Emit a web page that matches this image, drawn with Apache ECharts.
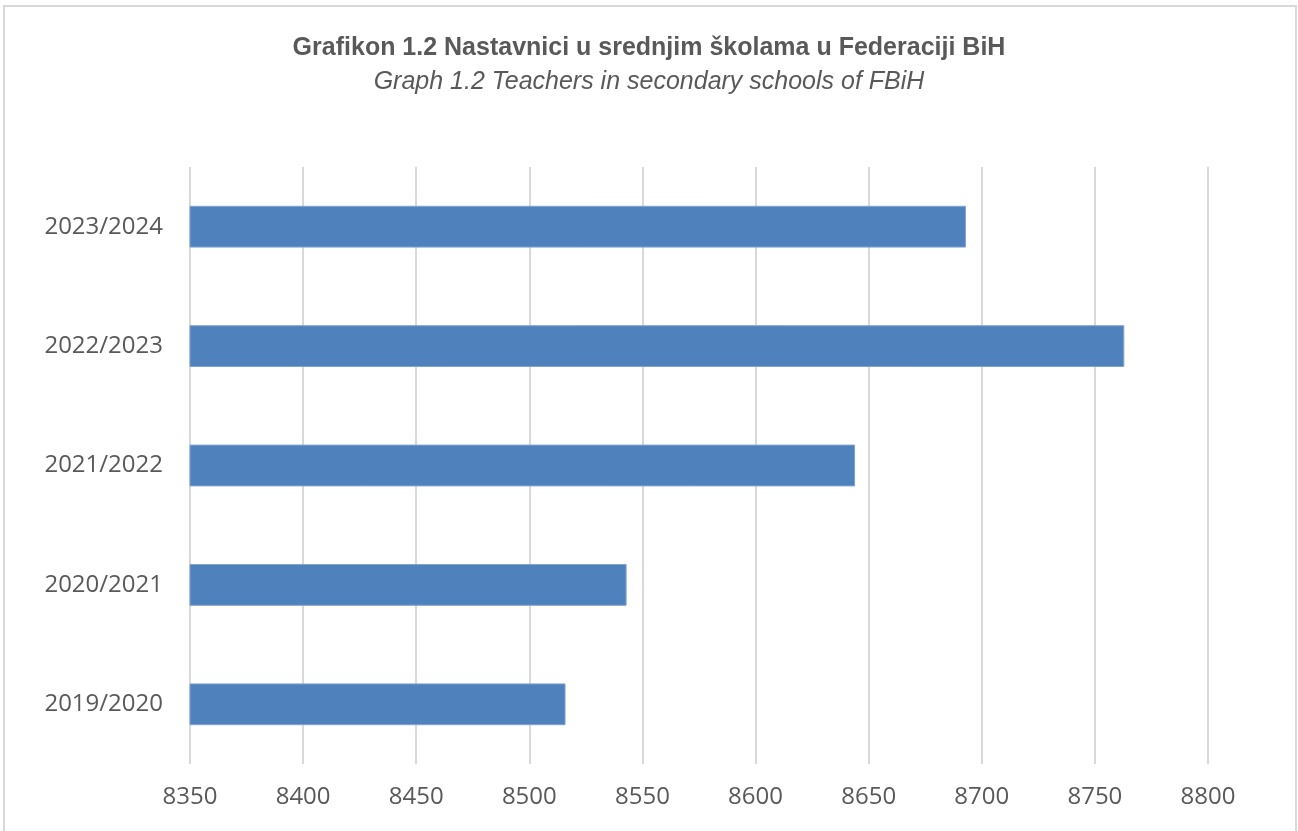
<!DOCTYPE html>
<html>
<head>
<meta charset="utf-8">
<script src="https://cdn.jsdelivr.net/npm/echarts@6/dist/echarts.min.js"></script>
<style>
  html, body { margin: 0; padding: 0; background: #fff; }
  #chart { width: 1298px; height: 831px; }
</style>
</head>
<body>
<div id="chart"></div>
<script>
var years = ['2019/2020', '2020/2021', '2021/2022', '2022/2023', '2023/2024']
var teachers = [8516, 8543, 8644, 8763, 8693]
var axisMin = 8350
var axisMax = 8800
var axisStep = 50

var myChart = echarts.init(document.getElementById('chart'))
var option = {
  backgroundColor: '#fff',
  animation: false,
  title: {
    text: 'Grafikon 1.2 Nastavnici u srednjim školama u Federaciji BiH',
    subtext: 'Graph 1.2 Teachers in secondary schools of FBiH',
    left: 'center',
    top: 31,
    itemGap: 9,
    textStyle: {
      fontFamily: 'Liberation Sans',
      fontWeight: 'bold',
      fontSize: 25,
      color: '#595959'
    },
    subtextStyle: {
      fontFamily: 'Liberation Sans',
      fontStyle: 'italic',
      fontSize: 25,
      color: '#595959'
    }
  },
  graphic: [{
    type: 'rect',
    shape: { x: 4, y: 6, width: 1292, height: 840 },
    style: { fill: 'none', stroke: '#d9d9d9', lineWidth: 2 },
    silent: true
  }],
  grid: {
    left: 190,
    right: 90,
    top: 167,
    bottom: 67,
    containLabel: false
  },
  xAxis: {
    type: 'value',
    min: axisMin,
    max: axisMax,
    interval: axisStep,
    axisLine: { show: false },
    axisTick: { show: false },
    axisLabel: {
      margin: 21,
      fontFamily: 'Open Sans',
      fontSize: 24,
      color: '#595959',
      formatter: function (v) { return String(v) }
    },
    splitLine: { lineStyle: { color: '#d9d9d9', width: 2 } }
  },
  yAxis: {
    type: 'category',
    data: years,
    axisLine: { show: false },
    axisTick: { show: false },
    axisLabel: {
      margin: 27,
      fontFamily: 'Open Sans',
      fontSize: 24,
      color: '#595959'
    }
  },
  series: [{
    type: 'bar',
    data: teachers,
    barWidth: '35%',
    itemStyle: {
      color: '#4f81bd',
      borderColor: '#7fa3d3',
      borderWidth: 1
    }
  }]
}
myChart.setOption(option)
</script>
</body>
</html>
